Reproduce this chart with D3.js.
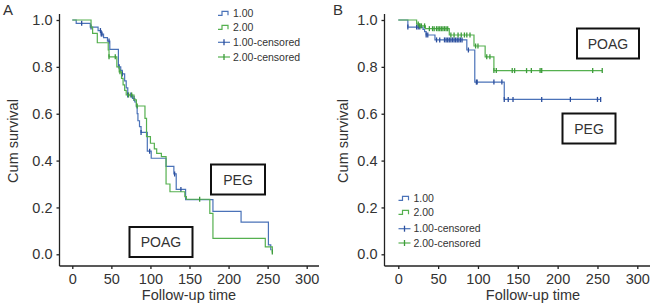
<!DOCTYPE html>
<html lang="en">
<head>
<meta charset="utf-8">
<title>Kaplan-Meier curves</title>
<script src="https://cdn.jsdelivr.net/npm/d3@7"></script>
<style>
  body { margin: 0; background: #fff; }
  text { font-family: "Liberation Sans", Arial, sans-serif; fill: #333; }
</style>
</head>
<body>
<svg width="651" height="305"></svg>
<script>
// ---- data ----
// panel A, group 1.00 (blue): [time, survival] after each step
const aBlueSteps = [[0,1],[5,0.986],[23,0.97],[33,0.955],[37,0.94],[40,0.925],[45,0.91],[48,0.875],
  [59,0.80],[62,0.785],[64,0.77],[67,0.74],[69,0.71],[71,0.68],[77,0.665],[80,0.65],[82,0.63],
  [83,0.60],[84,0.57],[86,0.545],[88,0.52],[96,0.44],[101,0.41],[120,0.375],[130,0.343],
  [133,0.277],[145,0.233],[180,0.183],[216,0.137],[251,0.04],[254,0.02]];
const aBlueEnd = 255;
const aBlueCens = [12,24,36,37,38,47,60,64,71,75,79,88,99,131,139];

// panel A, group 2.00 (green)
const aGreenSteps = [[0,1],[24,0.97],[26,0.943],[32,0.903],[46,0.872],[47,0.843],[57,0.80],[60,0.779],
  [63,0.751],[65,0.723],[67,0.70],[69,0.68],[79,0.659],[82,0.633],[93,0.58],[95,0.502],[100,0.474],
  [105,0.45],[108,0.431],[114,0.417],[120,0.30],[125,0.267],[144,0.246],[146,0.235],[176,0.175],
  [180,0.068],[247,0.032],[256,0.01]];
const aGreenEnd = 256.5;
const aGreenCens = [47,55,61,72,76,83,163,256];

// panel B, group 1.00 (blue)
const bBlueSteps = [[0,1],[12,0.97],[31,0.96],[33,0.95],[35,0.936],[46,0.915],[86,0.872],[96,0.735],[133,0.661]];
const bBlueEnd = 254;
const bBlueCens = [12,23,25,27,35,37,48,52,58,60,62,64,66,68,70,72,74,76,78,80,88,98,99,120,130,
  133,138,144,180,216,250,254];

// panel B, group 2.00 (green)
const bGreenSteps = [[0,1],[23,0.983],[27,0.975],[34,0.963],[64,0.936],[95,0.889],[109,0.843],[120,0.784]];
const bGreenEnd = 256;
const bGreenCens = [25,27,29,33,39,43,45,48,50,52,54,56,58,60,62,66,70,75,79,83,86,90,97,100,111,115,
  120,123,143,146,161,167,178,180,244,256];

const xTicks = [0,50,100,150,200,250,300];
const yTicks = [0,0.2,0.4,0.6,0.8,1.0];
const legendLabels = ["1.00","2.00","1.00-censored","2.00-censored"];

const blueLine = "#4a72b8", blueMark = "#2c4f9e";
const greenLine = "#55b04f", greenMark = "#3c9c3a";

const svg = d3.select("svg");
const y = d3.scaleLinear().domain([0,1]).range([254.3,20]);

const panels = [
  {letter:"A", lx:3, x:d3.scaleLinear().domain([0,300]).range([72.3,306.7]), axisX:59.5, axisEnd:319,
   series:[[aBlueSteps,aBlueEnd,aBlueCens,blueLine,blueMark],[aGreenSteps,aGreenEnd,aGreenCens,greenLine,greenMark]],
   titleY:13, titleX:189, legX:218, legY:[13.3,27.3,42.3,57],
   boxes:[{t:"PEG",x:211,y:164.5,w:54,h:30},{t:"POAG",x:129.5,y:227,w:63,h:30}]},
  {letter:"B", lx:333, x:d3.scaleLinear().domain([0,300]).range([398.3,637.3]), axisX:384.5, axisEnd:650,
   series:[[bBlueSteps,bBlueEnd,bBlueCens,blueLine,blueMark],[bGreenSteps,bGreenEnd,bGreenCens,greenLine,greenMark]],
   titleY:343, titleX:533, legX:398.5, legY:[198.3,212.3,228.7,243],
   boxes:[{t:"POAG",x:577,y:28.5,w:62,h:30},{t:"PEG",x:562.5,y:113.5,w:53,h:30}]}
];

function survAt(steps, t) {
  let s = steps[0][1];
  steps.forEach(d => { if (d[0] <= t) s = d[1]; });
  return s;
}

panels.forEach(p => {
  const g = svg.append("g");

  // axes
  g.append("line").attr("x1",p.axisX).attr("x2",p.axisX).attr("y1",14).attr("y2",266)
    .attr("stroke","#222").attr("stroke-width",1.3);
  g.append("line").attr("x1",p.axisX).attr("x2",p.axisEnd).attr("y1",266).attr("y2",266)
    .attr("stroke","#222").attr("stroke-width",1.3);

  const yAxis = g.append("g").attr("transform",`translate(${p.axisX},0)`)
    .call(d3.axisLeft(y).tickValues(yTicks).tickFormat(d3.format(".1f")).tickSize(3).tickPadding(4));
  const xAxis = g.append("g").attr("transform","translate(0,266)")
    .call(d3.axisBottom(p.x).tickValues(xTicks).tickSize(3).tickPadding(5));
  [yAxis,xAxis].forEach(a => {
    a.select(".domain").remove();
    a.selectAll("line").attr("stroke","#222").attr("stroke-width",1.3);
    a.selectAll("text").style("font-size","14.5px").attr("fill","#3a3a3a");
  });

  g.append("text").attr("transform",`translate(${p.titleY},141) rotate(-90)`)
    .attr("text-anchor","middle").attr("dy","0.35em").style("font-size","14.5px").text("Cum survival");
  g.append("text").attr("x",p.titleX).attr("y",300).attr("text-anchor","middle")
    .style("font-size","14.5px").text("Follow-up time");

  g.append("text").attr("x",p.lx).attr("y",15).style("font-size","15px")
    .style("font-family","'Liberation Sans Narrow', 'Liberation Sans', sans-serif").text(p.letter);

  // curves
  p.series.forEach(([steps,end,cens,lc,mc]) => {
    const pts = steps.concat([[end, steps[steps.length-1][1]]]);
    g.append("path").datum(pts)
      .attr("d", d3.line().x(d => p.x(d[0])).y(d => y(d[1])).curve(d3.curveStepAfter))
      .attr("fill","none").attr("stroke",lc).attr("stroke-width",1.2);
    g.selectAll(null).data(cens).enter().append("line")
      .attr("x1",d => p.x(d)).attr("x2",d => p.x(d))
      .attr("y1",d => y(survAt(steps,d)) - 2.5).attr("y2",d => y(survAt(steps,d)) + 2.5)
      .attr("stroke",mc).attr("stroke-width",1.3);
  });

  // legend
  const cols = [[blueLine,blueMark],[greenLine,greenMark]];
  legendLabels.forEach((lab,i) => {
    const ly = p.legY[i], lx = p.legX;
    const c = cols[i % 2];
    if (i < 2) {
      g.append("path").attr("d",`M${lx},${ly+2}H${lx+4}V${ly-2}H${lx+10}V${ly+2}`)
        .attr("fill","none").attr("stroke",c[0]).attr("stroke-width",1.2);
    } else {
      g.append("line").attr("x1",lx).attr("x2",lx+12).attr("y1",ly).attr("y2",ly)
        .attr("stroke",c[0]).attr("stroke-width",1.2);
      g.append("line").attr("x1",lx+6).attr("x2",lx+6).attr("y1",ly-3).attr("y2",ly+3)
        .attr("stroke",c[1]).attr("stroke-width",1.3);
    }
    g.append("text").attr("x",lx+15).attr("y",ly).attr("dy","0.35em")
      .style("font-size","10.5px").text(lab);
  });

  // label boxes
  p.boxes.forEach(b => {
    g.append("rect").attr("x",b.x).attr("y",b.y).attr("width",b.w).attr("height",b.h)
      .attr("fill","#fff").attr("stroke","#111").attr("stroke-width",2);
    g.append("text").attr("x",b.x+b.w/2).attr("y",b.y+b.h/2).attr("dy","0.36em")
      .attr("text-anchor","middle").style("font-size","14px").attr("fill","#222").text(b.t);
  });
});
</script>
</body>
</html>
